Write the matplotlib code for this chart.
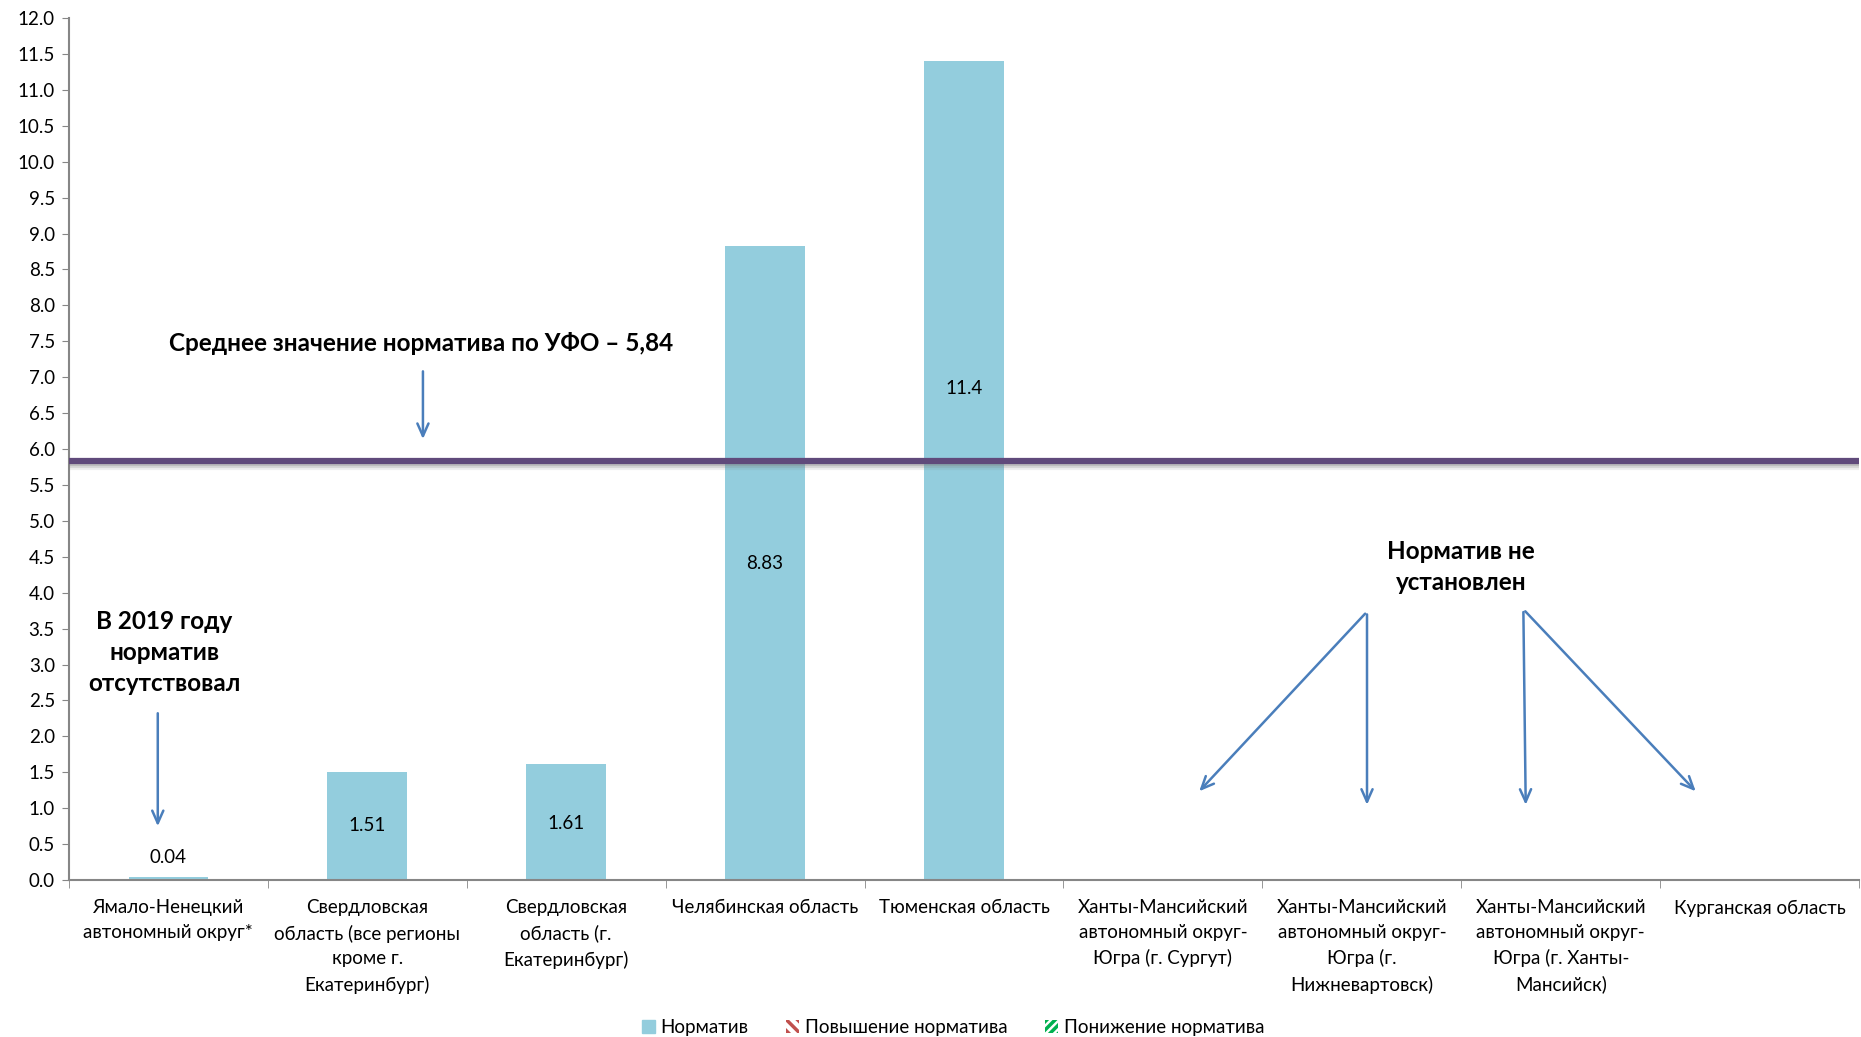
import matplotlib.pyplot as plt
import matplotlib.patches as mpatches
import matplotlib.patheffects as pe

plt.rcParams['font.family'] = ['Lato', 'DejaVu Sans']

categories = [
    "Ямало-Ненецкий\nавтономный округ*",
    "Свердловская\nобласть (все регионы\nкроме г.\nЕкатеринбург)",
    "Свердловская\nобласть (г.\nЕкатеринбург)",
    "Челябинская область",
    "Тюменская область",
    "Ханты-Мансийский\nавтономный округ-\nЮгра (г. Сургут)",
    "Ханты-Мансийский\nавтономный округ-\nЮгра (г.\nНижневартовск)",
    "Ханты-Мансийский\nавтономный округ-\nЮгра (г. Ханты-\nМансийск)",
    "Курганская область",
]
values = [0.04, 1.51, 1.61, 8.83, 11.4, 0, 0, 0, 0]
value_labels = ["0.04", "1.51", "1.61", "8.83", "11.4", "", "", "", ""]
label_y = [0.31, 0.76, 0.79, 4.40, 6.84, 0, 0, 0, 0]
average = 5.84

bar_color = "#93CDDD"
arrow_color = "#4A7EBB"
axis_color = "#868686"

fig = plt.figure(figsize=(18.61, 10.37), dpi=100)
ax = fig.add_axes([0.037, 0.1514, 0.962, 0.8312])

x = list(range(len(categories)))
ax.bar(x, values, width=0.4, color=bar_color, zorder=2)

for xi, lab, ly in zip(x, value_labels, label_y):
    if lab:
        ax.text(xi, ly, lab, ha="center", va="center", fontsize=13.5, color="#000000", zorder=4)

# average line with soft shadow underneath
ax.axhline(average, color="#604A7B", linewidth=4.5, zorder=3,
           path_effects=[pe.SimpleLineShadow(offset=(0, -4.5), shadow_color="gray", alpha=0.12),
                         pe.SimpleLineShadow(offset=(0, -3), shadow_color="gray", alpha=0.2),
                         pe.SimpleLineShadow(offset=(0, -1.5), shadow_color="gray", alpha=0.3),
                         pe.Normal()])

ax.set_xlim(-0.5, len(categories) - 0.5)
ax.set_ylim(0, 12)
ax.set_yticks([i * 0.5 for i in range(25)])
ax.set_yticklabels([f"{i * 0.5:.1f}" for i in range(25)], fontsize=13.5)

ax.set_xticks(x)
ax.set_xticklabels(categories, fontsize=13.5, linespacing=1.55, va="top")
ax.tick_params(axis="x", length=0, pad=14)
ax.set_xticks([i - 0.5 for i in range(len(categories) + 1)], minor=True)
ax.tick_params(axis="x", which="minor", length=6, color=axis_color, direction="out")
ax.tick_params(axis="y", length=5, color=axis_color, direction="out", pad=5)

for side in ["top", "right"]:
    ax.spines[side].set_visible(False)
for side in ["left", "bottom"]:
    ax.spines[side].set_color(axis_color)
    ax.spines[side].set_linewidth(1.5)

arrow_kw = dict(arrowstyle="->,head_length=0.9,head_width=0.4", color=arrow_color, lw=1.8)

ax.text(1.27, 7.47, "Среднее значение норматива по УФО – 5,84", ha="center", va="center",
        fontsize=17.5, fontweight="bold")
ax.annotate("", xy=(1.28, 6.10), xytext=(1.28, 7.12), arrowprops=arrow_kw)

ax.text(-0.02, 3.17, "В 2019 году\nнорматив\nотсутствовал", ha="center", va="center",
        fontsize=17.5, fontweight="bold", linespacing=1.42)
ax.annotate("", xy=(-0.053, 0.71), xytext=(-0.053, 2.36), arrowprops=arrow_kw)

ax.text(6.50, 4.36, "Норматив не\nустановлен", ha="center", va="center",
        fontsize=17.5, fontweight="bold", linespacing=1.42)
ax.annotate("", xy=(5.173, 1.207), xytext=(6.026, 3.736), arrowprops=arrow_kw)
ax.annotate("", xy=(6.026, 1.008), xytext=(6.026, 3.736), arrowprops=arrow_kw)
ax.annotate("", xy=(6.824, 1.008), xytext=(6.812, 3.769), arrowprops=arrow_kw)
ax.annotate("", xy=(7.688, 1.207), xytext=(6.812, 3.769), arrowprops=arrow_kw)

plt.rcParams['hatch.linewidth'] = 2.5
handles = [
    mpatches.Patch(facecolor=bar_color, edgecolor=bar_color, label="Норматив"),
    mpatches.Patch(facecolor="white", edgecolor="#C0504D", hatch="\\\\\\", linewidth=0,
                   label="Повышение норматива"),
    mpatches.Patch(facecolor="white", edgecolor="#00B050", hatch="////", linewidth=0,
                   label="Понижение норматива"),
]
fig.legend(handles=handles, loc="center", bbox_to_anchor=(0.512, 0.0095), ncol=3,
           frameon=False, fontsize=13.5, handlelength=0.7, handleheight=0.7,
           handletextpad=0.3, columnspacing=2.0)

fig.savefig("out.png", dpi=100)
